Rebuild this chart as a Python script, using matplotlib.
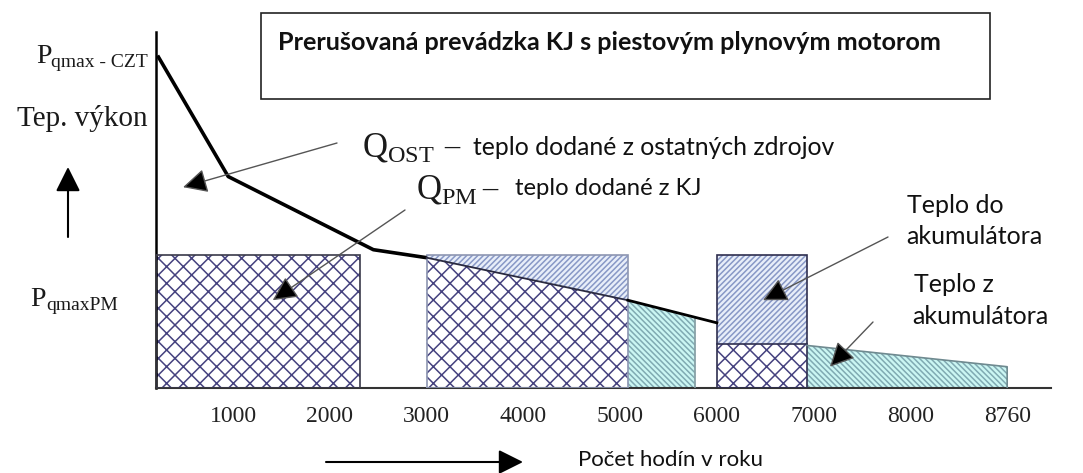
import numpy as np
import matplotlib
matplotlib.use("Agg")
import matplotlib.pyplot as plt

# ---------------- data (read from the schematic) ----------------
# load duration curve (hours, relative heat output; P_qmaxPM = 1.0)
load_hours = [220, 950, 2450, 3000, 5080, 6000]
load_power = [2.50, 1.59, 1.04, 0.98, 0.66, 0.49]

# engine (KJ) operating blocks
box1_hours = [200, 2310]
box2_hours = [3000, 5080]
box3_hours = [6000, 6930]
pm_power = 1.0            # P_qmaxPM
box3_split = 0.33         # part of block 3 delivered directly

# heat taken from accumulator (cyan areas)
acc1_hours = [5080, 5770]
acc1_top = [0.66, 0.52]
acc2_hours = [6930, 9000]
acc2_top = [0.32, 0.16]

tick_hours = [1000, 2000, 3000, 4000, 5000, 6000, 7000, 8000, 9000]
tick_labels = ["1000", "2000", "3000", "4000", "5000", "6000", "7000", "8000", "8760"]

# ---------------- styling ----------------
W, H = 1083, 473
plt.rcParams["mathtext.fontset"] = "custom"
plt.rcParams["mathtext.rm"] = "Liberation Serif"
plt.rcParams["mathtext.it"] = "Liberation Serif:italic"
plt.rcParams["hatch.linewidth"] = 1.1

SERIF = ["Liberation Serif", "DejaVu Serif"]
SANS = ["Lato", "DejaVu Sans"]

X_COL = "#45427f"      # cross-hatch lines
BLUE_FILL = "#e8eef9"
BLUE_HATCH = "#8898c6"
CYAN_FILL = "#cbf6f3"
CYAN_HATCH = "#80aab2"
TXT = "#1a1a1a"

fig = plt.figure(figsize=(W / 100, H / 100), dpi=100, facecolor="white")
renderer = fig.canvas.get_renderer()

def fx(px):
    return px / W

def fy(py):
    return 1 - py / H

# axes placement (pixels of the reference)
left_px, right_px, top_px, bot_px = 155.65, 1050.7, 32, 388
ax = fig.add_axes([fx(left_px), fy(bot_px), (right_px - left_px) / W, (bot_px - top_px) / H])
ax.set_xlim(200, 9450)
ax.set_ylim(0, 2.677)
ax.set_facecolor("none")
for s in ("top", "right"):
    ax.spines[s].set_visible(False)
ax.spines["left"].set_linewidth(1.8)
ax.spines["left"].set_color("black")
ax.spines["bottom"].set_linewidth(1.5)
ax.spines["bottom"].set_color("#333333")
ax.set_yticks([])
ax.set_xticks(tick_hours, tick_labels)
ax.tick_params(axis="x", length=0, pad=13, labelsize=17, labelcolor="#222222")
for lab in ax.get_xticklabels():
    lab.set_fontfamily(SERIF)


def hatched(x, y1, y2, fill, hatch, hcol, z=2):
    ax.fill_between(x, y1, y2, facecolor=fill, edgecolor="none", linewidth=0, zorder=z)
    ax.fill_between(x, y1, y2, facecolor="none", edgecolor=hcol, hatch=hatch, linewidth=0, zorder=z + 0.1)


def outline(x0, x1, y0, y1, col, lw=1.2, z=3):
    ax.plot([x0, x0, x1, x1, x0], [y0, y1, y1, y0, y0], color=col, lw=lw, zorder=z, solid_joinstyle="miter")


XH = "xx"
BH = "//////"
CH = "\\\\\\\\\\\\"

# block 1 (fully cross-hatched)
hatched(box1_hours, 0, pm_power, "white", XH, X_COL)
outline(box1_hours[0], box1_hours[1], 0, pm_power, "#3a3a4a")

# block 2: lower part under the curve, upper part to accumulator
b2x = load_hours[3:5]
b2y = load_power[3:5]
hatched(b2x, 0, b2y, "white", XH, X_COL)
hatched(b2x, b2y, pm_power, BLUE_FILL, BH, BLUE_HATCH)
outline(box2_hours[0], box2_hours[1], 0, pm_power, "#8d96b2")

# accumulator discharge after block 2
hatched(acc1_hours, 0, acc1_top, CYAN_FILL, CH, CYAN_HATCH)
ax.plot([acc1_hours[1], acc1_hours[1]], [0, acc1_top[1]], color="#7f9aa0", lw=1.2, zorder=3)

# block 3
hatched(box3_hours, 0, box3_split, "white", XH, X_COL)
hatched(box3_hours, box3_split, pm_power, BLUE_FILL, BH, BLUE_HATCH)
outline(box3_hours[0], box3_hours[1], 0, pm_power, "#2f2f4f")
ax.plot(box3_hours, [box3_split, box3_split], color="#2f2f4f", lw=1.2, zorder=3)

# accumulator discharge after block 3
hatched(acc2_hours, 0, acc2_top, CYAN_FILL, CH, CYAN_HATCH)
ax.plot([acc2_hours[0], acc2_hours[1], acc2_hours[1]], [acc2_top[0], acc2_top[1], 0],
        color="#6f8a90", lw=1.2, zorder=3)

# load duration curve
ax.plot(load_hours[:4], load_power[:4], color="black", lw=2.6, zorder=5, solid_capstyle="butt")
ax.plot(load_hours[3:5], load_power[3:5], color="#2a2a40", lw=1.3, zorder=5)
ax.plot(load_hours[4:6], load_power[4:6], color="black", lw=2.0, zorder=5)

# ---------------- text ----------------
# title box
fig.patches.append(plt.Rectangle((fx(261), fy(99)), (990 - 261) / W, (99 - 13) / H,
                                 transform=fig.transFigure, facecolor="white",
                                 edgecolor="#222222", lw=1.2))
fig.text(fx(278), fy(42), "Prerušovaná prevádzka KJ s piestovým plynovým motorom",
         family=SANS, fontweight="bold", fontsize=18.2, ha="left", va="center", color="#111111")


def sub_label(main, sub, right_px, base_px, main_size=20, sub_size=13.5):
    t = fig.text(fx(right_px), fy(base_px + 4), sub, family=SERIF, fontsize=sub_size,
                 ha="right", va="baseline", color=TXT)
    bb = t.get_window_extent(renderer)
    fig.text(bb.x0 / W, fy(base_px), main, family=SERIF, fontsize=main_size,
             ha="right", va="baseline", color=TXT)


# y-axis labels (main letter + subscript)
sub_label("P", "qmax - CZT", 148, 63, sub_size=14)
fig.text(fx(148), fy(126), "Tep. výkon", family=SERIF, fontsize=21,
         ha="right", va="baseline", color=TXT)
sub_label("P", "qmaxPM", 118, 306, sub_size=14)

# Q labels
fig.text(fx(362), fy(157), r"$\mathrm{Q}_{\mathrm{OST}}$", family=SERIF,
         fontsize=25, ha="left", va="baseline", color=TXT)
fig.text(fx(444), fy(155), "–", family=SERIF, fontsize=22, ha="left", va="baseline", color=TXT)
fig.text(fx(473), fy(155), "teplo dodané z ostatných zdrojov", family=SANS,
         fontsize=17.8, ha="left", va="baseline", color="#111111")
fig.text(fx(416), fy(199), r"$\mathrm{Q}_{\mathrm{PM}}$", family=SERIF,
         fontsize=25, ha="left", va="baseline", color=TXT)
fig.text(fx(482), fy(197), "–", family=SERIF, fontsize=22, ha="left", va="baseline", color=TXT)
fig.text(fx(515), fy(195), "teplo dodané z KJ", family=SANS,
         fontsize=17.2, ha="left", va="baseline", color="#111111")

# right labels
fig.text(fx(907), fy(213), "Teplo do", family=SANS, fontsize=18, ha="left", va="baseline", color="#111111")
fig.text(fx(906), fy(244), "akumulátora", family=SANS, fontsize=18, ha="left", va="baseline", color="#111111")
fig.text(fx(914), fy(292), "Teplo z", family=SANS, fontsize=18, ha="left", va="baseline", color="#111111")
fig.text(fx(912), fy(324), "akumulátora", family=SANS, fontsize=18, ha="left", va="baseline", color="#111111")

# x-axis label
fig.text(fx(670), fy(466), "Počet hodín v roku", family=SANS, fontsize=16,
         ha="center", va="baseline", color="#111111")

# ---------------- arrows ----------------
def pointer(tip_h, tip_p, start_px):
    ax.annotate("", xy=(tip_h, tip_p), xycoords="data",
                xytext=(start_px[0], H - start_px[1]), textcoords="figure pixels",
                arrowprops=dict(arrowstyle="-|>,head_length=1.0,head_width=0.5",
                                mutation_scale=15, lw=1.0, ec="#555555", fc="black",
                                shrinkA=0, shrinkB=0),
                zorder=6)

pointer(483, 1.51, (337, 143))
pointer(1410, 0.66, (405, 210))
pointer(6477, 0.66, (888, 237))
pointer(7169, 0.16, (873, 322))

big_arrow = dict(arrowstyle="-|>,head_length=1.0,head_width=0.5", mutation_scale=15,
                 lw=1.5, color="black", shrinkA=0, shrinkB=0)
ax.annotate("", xy=(68, H - 167), xycoords="figure pixels",
            xytext=(68, H - 237), textcoords="figure pixels", arrowprops=big_arrow,
            annotation_clip=False)
ax.annotate("", xy=(523, H - 462), xycoords="figure pixels",
            xytext=(326, H - 462), textcoords="figure pixels", arrowprops=big_arrow,
            annotation_clip=False)

fig.savefig("out.png", dpi=100, facecolor="white")
